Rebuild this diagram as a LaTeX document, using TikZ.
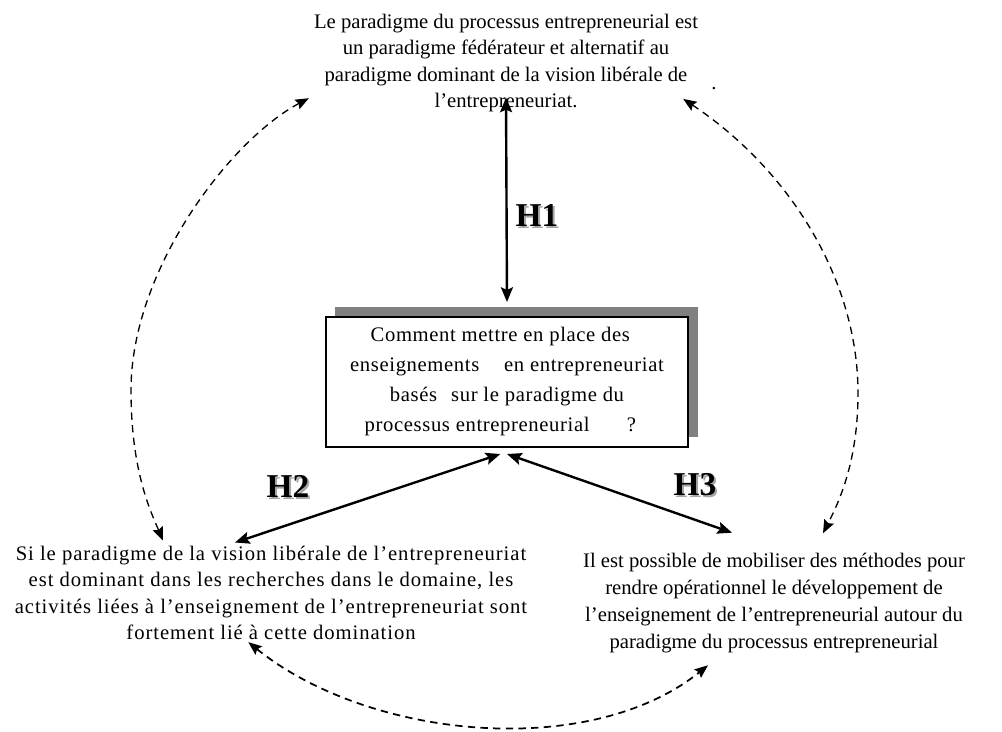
\documentclass[tikz,border=0pt]{standalone}
\usepackage{fontspec}
\setmainfont{Liberation Serif}
\usetikzlibrary{arrows.meta,shadows}

\tikzset{
  txt/.style={align=center, inner sep=0pt, font=\fontsize{15.5}{19.8}\selectfont},
  wide/.style={font=\fontsize{15.5}{19.8}\selectfont\addfontfeatures{LetterSpace=4.5}},
  question/.style={draw, line width=1.5pt, fill=white, minimum width=272pt, minimum height=97.5pt,
    align=center, inner sep=0pt, font=\fontsize{15.5}{22.5}\selectfont\addfontfeatures{LetterSpace=3},
    drop shadow={shadow xshift=7pt, shadow yshift=7.5pt, fill=black!50, opacity=1}},
  hyp/.style={font=\fontsize{25}{25}\selectfont\bfseries},
  biarrow/.style={line width=1.8pt, {Stealth[length=11pt,width=9pt,inset=2pt]}-{Stealth[length=11pt,width=9pt,inset=2pt]}},
  linkarrow/.style={line width=1pt, dash pattern=on 5.5pt off 4pt,
    {Stealth[length=10pt,width=8pt,inset=1.5pt]}-{Stealth[length=10pt,width=8pt,inset=1.5pt]}}
}
\newcommand{\shad}[1]{\makebox[0pt][l]{\hspace{1.5pt}\raisebox{-1.5pt}{\color{black!35}#1}}#1}

\begin{document}
\begin{tikzpicture}[x=0.75pt, y=-0.75pt]
  \useasboundingbox (0,0) rectangle (1002,731);

  \node [txt] (top) at (506,63) {Le paradigme du processus entrepreneurial est\\
    un paradigme fédérateur et alternatif au\\
    paradigme dominant de la vision libérale de\\
    l’entrepreneuriat.};
  \node [txt] (dot) at (714,89) {.};
  \node [question] (q) at (507,382) {Comment mettre en place des\hspace*{10pt}\\
    enseignements\hspace{1.2em}en entrepreneuriat\hspace*{10pt}\\
    basés\hspace{0.4em} sur le paradigme du\hspace*{10pt}\\
    processus entrepreneurial\hspace{1.8em}?\hspace*{10pt}};
  \node [txt, wide] (left) at (271,593) {Si le paradigme de la vision libérale de l’entrepreneuriat\\
    est dominant dans les recherches dans le domaine, les\\
    activités liées à l’enseignement de l’entrepreneuriat sont\\
    fortement lié à cette domination};
  \node [txt, font=\fontsize{15.5}{20.3}\selectfont] (right) at (774,603) {Il est possible de mobiliser des méthodes pour\\
    rendre opérationnel le développement de\\
    l’enseignement de l’entrepreneurial autour du\\
    paradigme du processus entrepreneurial};

  \node [hyp] (h1) at (537,216) {\shad{H1}};
  \node [hyp] (h2) at (288,487) {\shad{H2}};
  \node [hyp] (h3) at (695,486) {\shad{H3}};

  \draw [biarrow] ([yshift=11pt]top.south) -- ([yshift=10.5pt]q.north);
  \draw [biarrow] ([xshift=-5pt,yshift=-4.5pt]q.south) -- ([xshift=-27pt,yshift=2.5pt]left.north);
  \draw [biarrow] ([yshift=-4.5pt]q.south) -- ([xshift=-31.5pt,yshift=15pt]right.north);

  \draw [linkarrow] ([xshift=-3.75pt,yshift=10.5pt]top.south west) .. controls (230,140) and (131,270) .. (131,390)
    .. controls (131,470) and (150,510) .. ([xshift=-81pt,yshift=4pt]left.north);
  \draw [linkarrow] ([xshift=-11.25pt,yshift=10pt]top.south east) .. controls (790,170) and (858,280) .. (858,393)
    .. controls (858,460) and (840,500) .. ([xshift=36.75pt,yshift=14.6pt]right.north);
  \draw [linkarrow, line width=1.3pt] ([xshift=-17pt,yshift=-1.5pt]left.south) .. controls (370,740) and (590,760)
    .. ([xshift=-49.5pt,yshift=-9pt]right.south);
\end{tikzpicture}
\end{document}
